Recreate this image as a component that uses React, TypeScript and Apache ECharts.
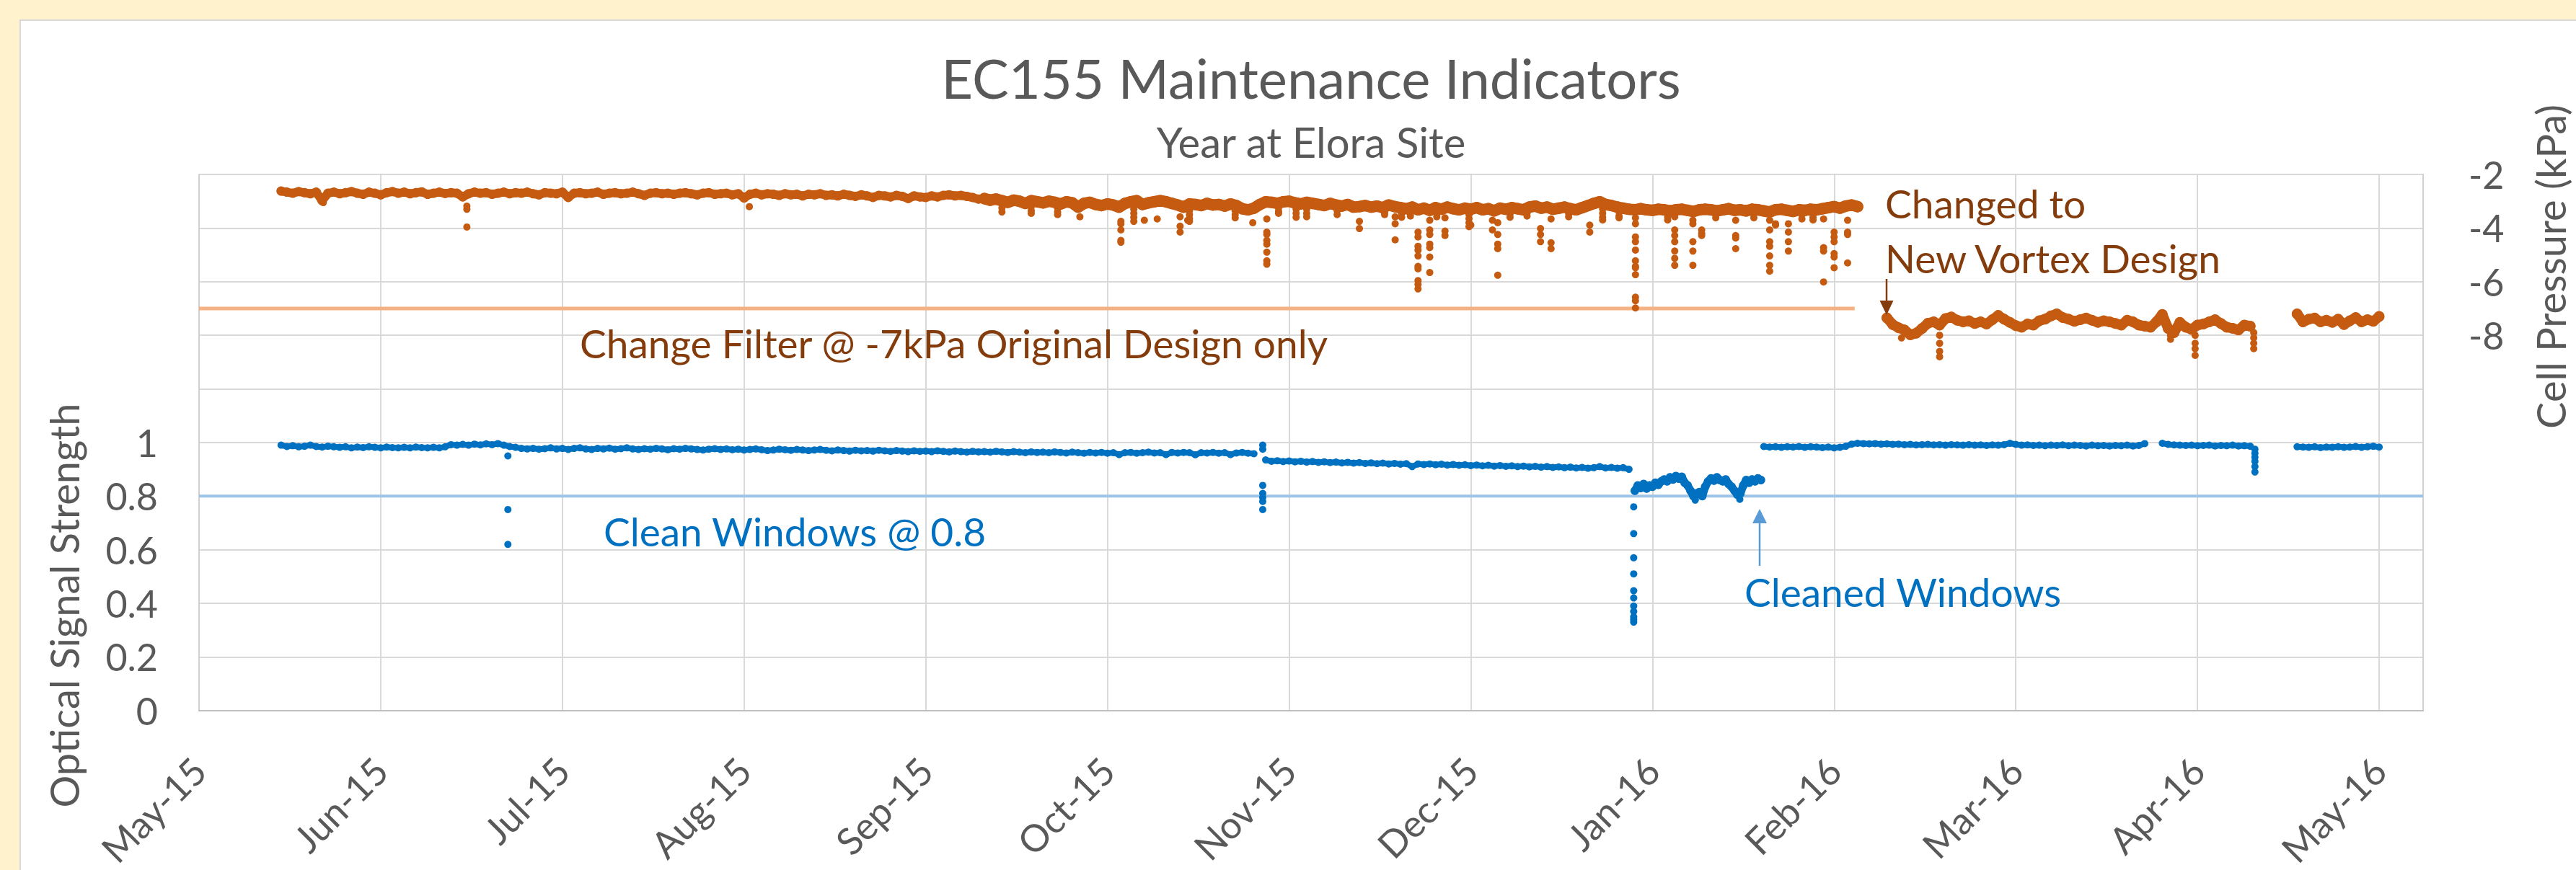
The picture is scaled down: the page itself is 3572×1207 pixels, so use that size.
import React, { useEffect, useRef } from "react";
import * as echarts from "echarts";

const FONT = "Lato, 'Noto Sans', sans-serif";

// x values are days counted from 1 May 2015; ticks every 31 days
const xTickLabels = ["May-15", "Jun-15", "Jul-15", "Aug-15", "Sep-15", "Oct-15", "Nov-15", "Dec-15", "Jan-16", "Feb-16", "Mar-16", "Apr-16", "May-16"];
const xTickStepDays = 31;
const xAxisMaxDays = 379.5;

// Left axis (Optical Signal Strength): gridlines to 2, labels only up to 1
const signalAxisMin = 0;
const signalAxisMax = 2;
const signalAxisStep = 0.2;
const signalLabelMax = 1;

// Right axis (Cell Pressure kPa): gridlines down to -22, labels only down to -8
const pressureAxisMin = -22;
const pressureAxisMax = -2;
const pressureAxisStep = 2;
const pressureLabelMin = -8;

// Thresholds
const filterThreshold = -7;
const filterLineDays = [0, 282.5];
const cleanThreshold = 0.8;
const cleanLineDays = [0, 379.5];

// Cell pressure, original design, one value per day from day 14
const pressureOldStartDay = 14;
const pressureOldQuietDays = 120; // first 120 days: narrower, calmer band
const pressureOld = [
  -2.62, -2.66, -2.7, -2.64, -2.68, -2.72, -2.66, -2.98, -2.7, -2.66,
  -2.72, -2.68, -2.64, -2.7, -2.74, -2.66, -2.7, -2.76, -2.68, -2.64,
  -2.7, -2.66, -2.72, -2.68, -2.65, -2.74, -2.7, -2.66, -2.71, -2.68,
  -2.7, -2.84, -2.72, -2.66, -2.7, -2.68, -2.74, -2.7, -2.66, -2.72,
  -2.68, -2.7, -2.66, -2.72, -2.76, -2.68, -2.7, -2.72, -2.66, -2.86,
  -2.7, -2.68, -2.72, -2.7, -2.66, -2.74, -2.7, -2.68, -2.72, -2.7,
  -2.66, -2.72, -2.78, -2.7, -2.68, -2.72, -2.7, -2.74, -2.7, -2.68,
  -2.72, -2.76, -2.7, -2.68, -2.74, -2.72, -2.7, -2.76, -2.72, -2.88,
  -2.74, -2.7, -2.76, -2.72, -2.74, -2.78, -2.72, -2.76, -2.74, -2.8,
  -2.74, -2.76, -2.72, -2.78, -2.76, -2.8, -2.74, -2.78, -2.82, -2.76,
  -2.8, -2.86, -2.78, -2.8, -2.84, -2.78, -2.82, -2.9, -2.8, -2.84,
  -2.86, -2.8, -2.84, -2.78, -2.76, -2.8, -2.78, -2.82, -2.86, -2.92,
  -2.9, -2.96, -2.92, -2.98, -3.04, -2.96, -3.0, -3.08, -2.98, -3.02,
  -3.06, -3.0, -3.04, -3.1, -3.02, -3.06, -3.22, -3.08, -3.04, -3.12,
  -3.16, -3.1, -3.14, -3.22, -3.08, -3.02, -2.98, -3.12, -3.06, -3.02,
  -2.98, -3.02, -3.08, -3.14, -3.22, -3.1, -3.12, -3.16, -3.08, -3.14,
  -3.12, -3.18, -3.1, -3.16, -3.28, -3.32, -3.26, -3.12, -3.02, -3.04,
  -3.08, -3.02, -3.0, -3.06, -3.1, -3.04, -3.08, -3.12, -3.16, -3.08,
  -3.14, -3.18, -3.12, -3.22, -3.2, -3.16, -3.22, -3.18, -3.24, -3.14,
  -3.2, -3.24, -3.28, -3.22, -3.32, -3.26, -3.34, -3.24, -3.3, -3.22,
  -3.28, -3.32, -3.26, -3.3, -3.24, -3.32, -3.28, -3.36, -3.26, -3.3,
  -3.24, -3.28, -3.32, -3.22, -3.18, -3.26, -3.22, -3.3, -3.26, -3.22,
  -3.28, -3.32, -3.24, -3.16, -3.08, -3.02, -3.12, -3.16, -3.22, -3.26,
  -3.3, -3.32, -3.28, -3.32, -3.34, -3.3, -3.32, -3.36, -3.32, -3.3,
  -3.34, -3.38, -3.32, -3.3, -3.32, -3.36, -3.32, -3.28, -3.34, -3.32,
  -3.36, -3.3, -3.32, -3.36, -3.4, -3.32, -3.3, -3.34, -3.38, -3.32,
  -3.34, -3.3, -3.32, -3.28, -3.24, -3.2, -3.26, -3.18, -3.14, -3.2,
];

// Cell pressure, new vortex design, one value per day
const pressureNewAStartDay = 288;
const pressureNewA = [
  -7.35, -7.6, -7.72, -7.8, -7.98, -7.92, -7.75, -7.55, -7.5, -7.62, -7.38, -7.32,
  -7.44, -7.5, -7.46, -7.56, -7.5, -7.58, -7.42, -7.26, -7.4, -7.52,
  -7.64, -7.7, -7.58, -7.62, -7.46, -7.4, -7.28, -7.2, -7.34, -7.4,
  -7.48, -7.42, -7.36, -7.44, -7.52, -7.46, -7.5, -7.56, -7.62, -7.44,
  -7.5, -7.62, -7.66, -7.7, -7.5, -7.22, -7.75, -7.9, -7.52, -7.7,
  -7.78, -7.62, -7.58, -7.5, -7.42, -7.56, -7.7, -7.74, -7.8, -7.62, -7.66,
];
const pressureNewBStartDay = 358;
const pressureNewB = [-7.2, -7.5, -7.4, -7.36, -7.5, -7.44, -7.52, -7.4, -7.6, -7.46, -7.34, -7.5, -7.42, -7.48, -7.3];

// Pressure excursions (isolated readings) by day
const pressureSpikeDays = [
  21.2, 45.7, 93.9, 150.3, 157.3, 161.3, 163.5, 167.4, 168.7, 179.8, 182.2, 198, 204.1, 208, 210, 212.6, 217,
  220.7, 221.6, 228.9, 230.7, 237.3, 245.1, 251.8, 254.9, 256.4, 262.2, 268, 269, 271.2, 277.2, 279, 281.3,
  290.5, 297, 336.4, 340.6, 350.6,
];
const pressureSpikeValues = [
  [-3.05], [-3.18, -3.3, -3.96], [-3.2], [-3.58], [-3.75, -3.84, -4.07, -4.46, -4.53], [-3.71], [-3.66],
  [-3.58, -3.93, -4.15], [-3.71], [-3.8], [-3.66, -4.15, -4.24, -4.46, -4.6, -4.9, -5.22, -5.35], [-3.75, -4.02],
  [-3.58, -3.84, -4.44], [-4.15, -4.33, -4.68, -4.82, -5.04, -5.43, -5.52, -5.96, -6.1, -6.27],
  [-3.71, -4.07, -4.24, -4.6, -4.73, -5.08, -5.66], [-3.62, -4.11, -4.28], [-3.89],
  [-3.71, -4.07], [-3.8, -4.24, -4.6, -4.77, -5.76], [-4.02, -4.24, -4.51], [-3.66, -4.55, -4.77], [-3.89, -4.15],
  [-3.62, -3.84, -4.33, -4.51, -4.82, -5.22, -5.43, -5.48, -5.74, -6.58, -6.71, -6.98],
  [-3.58, -4.07, -4.28, -4.51, -4.86, -5.13, -5.39], [-3.71, -3.84, -4.51, -4.86, -5.39], [-4.07, -4.2, -4.28],
  [-3.71, -4.28, -4.37, -4.77], [-3.71, -4.07, -4.51, -4.68, -5.04, -5.39, -5.61], [-3.84, -3.89],
  [-3.84, -4.15, -4.51, -4.86], [-3.66, -4.73, -4.86, -6.01], [-4.15, -4.33, -4.51, -4.95, -5.08, -5.48],
  [-3.71, -4.15, -4.24, -5.3],
  [-8.1], [-8.0, -8.3, -8.6, -8.8], [-8.0, -8.15], [-8.0, -8.3, -8.5, -8.75], [-7.9, -8.1, -8.3, -8.5],
];

// Short pressure dips just below the band (runs of consecutive readings)
const pressureDipDays = [
  137, 142, 146.5, 159.5, 169, 176.8, 184.2, 187.2, 189, 194.2, 202.3, 205.2, 206.7, 211.2, 216.7, 223.7,
  226.6, 233.7, 239.5, 242.3, 250.6, 258.8, 265.3, 273.5, 275.4,
];
const pressureDipValues = [
  [-3.1, -3.25, -3.4], [-3.2, -3.35, -3.45], [-3.25, -3.4, -3.5], [-3.3, -3.45, -3.6, -3.75],
  [-3.35, -3.5, -3.65, -3.75], [-3.35, -3.5, -3.62], [-3.25, -3.38, -3.45], [-3.3, -3.45, -3.6],
  [-3.3, -3.45, -3.58], [-3.35, -3.5], [-3.4, -3.5], [-3.45, -3.6], [-3.45, -3.55], [-3.45, -3.58],
  [-3.5, -3.65, -3.8, -3.95], [-3.48, -3.6], [-3.45, -3.55], [-3.45, -3.58], [-3.3, -3.45, -3.6, -3.7],
  [-3.4, -3.55, -3.62], [-3.5, -3.6, -3.7], [-3.5, -3.62], [-3.5, -3.62], [-3.5, -3.66], [-3.5, -3.6, -3.7],
];

// Optical signal strength, one value per day, in segments
const signalAStartDay = 14;
const signalA = [
  0.99, 0.985, 0.988, 0.984, 0.986, 0.99, 0.985, 0.983, 0.986, 0.984,
  0.982, 0.984, 0.98, 0.983, 0.981, 0.984, 0.982, 0.98, 0.983, 0.981,
  0.98, 0.982, 0.98, 0.983, 0.981, 0.98, 0.982, 0.98, 0.984, 0.992,
  0.99, 0.993, 0.99, 0.994, 0.991, 0.995, 0.992, 0.996, 0.99, 0.985,
  0.982, 0.978, 0.976, 0.978, 0.975, 0.977, 0.98, 0.976, 0.978, 0.974,
  0.978, 0.98, 0.976, 0.974, 0.978, 0.976, 0.979, 0.975, 0.977, 0.98,
  0.976, 0.974, 0.977, 0.975, 0.978, 0.976, 0.973, 0.977, 0.975, 0.978,
  0.976, 0.974, 0.972, 0.975, 0.977, 0.974, 0.976, 0.973, 0.975, 0.972,
  0.974, 0.976, 0.973, 0.97, 0.972, 0.975, 0.973, 0.971, 0.974, 0.972,
  0.97, 0.972, 0.974, 0.971, 0.969, 0.972, 0.97, 0.968, 0.971, 0.969,
  0.97, 0.968, 0.971, 0.969, 0.967, 0.97, 0.968, 0.966, 0.969, 0.967,
  0.968, 0.966, 0.969, 0.967, 0.965, 0.968, 0.966, 0.964, 0.967, 0.965,
  0.966, 0.964, 0.967, 0.965, 0.963, 0.966, 0.964, 0.962, 0.965, 0.963,
  0.964, 0.962, 0.965, 0.963, 0.961, 0.964, 0.962, 0.96, 0.963, 0.961,
  0.963, 0.96, 0.962, 0.955, 0.962, 0.963, 0.96, 0.962, 0.964, 0.961,
  0.962, 0.955, 0.963, 0.961, 0.963, 0.962, 0.954, 0.962, 0.961, 0.963,
  0.96, 0.962, 0.955, 0.961, 0.963, 0.96, 0.958,
];
const signalBStartDay = 182;
const signalB = [
  0.935, 0.93, 0.932, 0.929, 0.931, 0.928, 0.93, 0.927, 0.929, 0.926,
  0.928, 0.925, 0.927, 0.924, 0.926, 0.923, 0.925, 0.922, 0.924, 0.921,
  0.923, 0.92, 0.922, 0.919, 0.921, 0.91, 0.92, 0.918, 0.92, 0.917,
  0.919, 0.916, 0.918, 0.915, 0.917, 0.914, 0.916, 0.913, 0.915, 0.912,
  0.914, 0.911, 0.913, 0.91, 0.912, 0.909, 0.911, 0.908, 0.91, 0.907,
  0.909, 0.906, 0.908, 0.905, 0.907, 0.904, 0.906, 0.91, 0.905, 0.907,
  0.904, 0.906, 0.9,
];
// noisy period before the windows were cleaned: two readings per day
const signalCStartDay = 245;
const signalCStepDays = 0.5;
const signalC = [
  0.82, 0.84, 0.83, 0.845, 0.828, 0.84, 0.835, 0.85, 0.842, 0.855,
  0.862, 0.855, 0.87, 0.862, 0.875, 0.865, 0.872, 0.85, 0.84, 0.82,
  0.8, 0.81, 0.815, 0.8, 0.835, 0.855, 0.866, 0.858, 0.87, 0.86,
  0.855, 0.862, 0.845, 0.835, 0.82, 0.805, 0.81, 0.84, 0.86, 0.85,
  0.862, 0.855, 0.866, 0.86,
];
const signalDStartDay = 267;
const signalD = [
  0.985, 0.983, 0.984, 0.982, 0.984, 0.983, 0.985, 0.982, 0.984, 0.983,
  0.981, 0.983, 0.98, 0.982, 0.986, 0.994, 0.997, 0.996, 0.995, 0.996,
  0.994, 0.995, 0.993, 0.994, 0.992, 0.993, 0.991, 0.992, 0.993, 0.991,
  0.992, 0.99, 0.992, 0.991, 0.99, 0.992, 0.99, 0.991, 0.989, 0.991,
  0.99, 0.992, 0.997, 0.993, 0.99, 0.991, 0.989, 0.99, 0.988, 0.99,
  0.989, 0.991, 0.988, 0.99, 0.989, 0.987, 0.99, 0.988, 0.989, 0.987,
  0.989, 0.988, 0.99, 0.987, 0.989, 0.996,
];
const signalEStartDay = 335;
const signalE = [0.997, 0.993, 0.991, 0.99, 0.989, 0.99, 0.988, 0.989, 0.99, 0.987, 0.989, 0.988, 0.99, 0.987, 0.988, 0.986];
const signalFStartDay = 358;
const signalF = [0.984, 0.983, 0.982, 0.984, 0.981, 0.983, 0.982, 0.984, 0.982, 0.983, 0.985, 0.982, 0.984, 0.986, 0.983];

// Signal excursions (isolated readings) by day
const signalSpikeDays = [52.7, 181.5, 244.8, 255.3, 262.9, 350.8];
const signalSpikeValues = [
  [0.95, 0.75, 0.62],
  [0.99, 0.975, 0.84, 0.81, 0.795, 0.78, 0.75],
  [0.76, 0.66, 0.57, 0.51, 0.447, 0.42, 0.39, 0.37, 0.35, 0.34, 0.33],
  [0.79, 0.785],
  [0.788],
  [0.975, 0.96, 0.945, 0.93, 0.91, 0.89],
];

const ORANGE = "#C55A11";
const BLUE = "#0070C0";
const BROWN = "#843C0C";
const GREY_TEXT = "#595959";

const daily = (start: number, vals: number[], step = 1) => vals.map((v, i) => [start + i * step, v]);
const clusters = (days: number[], vals: number[][]) => {
  const out: number[][] = [];
  days.forEach((d, i) => vals[i].forEach((v) => out.push([d, v])));
  return out;
};

function bandSeries(data: number[][], color: string, yAxisIndex: number, width: number, size: number) {
  return {
    type: "line",
    yAxisIndex,
    data,
    silent: true,
    symbol: "circle",
    symbolSize: size,
    showSymbol: true,
    showAllSymbol: true,
    itemStyle: { color },
    lineStyle: { color, width, cap: "round", join: "round" },
    emphasis: { disabled: true },
    z: 3,
  };
}

function spikeSeries(data: number[][], color: string, yAxisIndex: number) {
  return {
    type: "scatter",
    yAxisIndex,
    data,
    silent: true,
    symbol: "circle",
    symbolSize: 10,
    itemStyle: { color, opacity: 1 },
    emphasis: { disabled: true },
    z: 3,
  };
}

function thresholdSeries(days: number[], value: number, color: string, yAxisIndex: number, width: number) {
  return {
    type: "line",
    yAxisIndex,
    data: days.map((d) => [d, value]),
    silent: true,
    showSymbol: false,
    symbol: "none",
    lineStyle: { color, width },
    emphasis: { disabled: true },
    z: 2,
  };
}

function txt(text: string, x: number, y: number, size: number, color: string, align = "left", rotation = 0) {
  return {
    type: "text",
    x,
    y,
    rotation,
    z: 100,
    silent: true,
    style: {
      text,
      fill: color,
      fontSize: size,
      fontFamily: FONT,
      align,
      textAlign: align,
      verticalAlign: "middle",
      textVerticalAlign: "middle",
    },
  };
}

export default function App() {
  const ref = useRef<HTMLDivElement>(null);

  useEffect(() => {
    if (!ref.current) return;
    const chart = echarts.init(ref.current, undefined, { renderer: "svg" });

    const pressureOldPoints = daily(pressureOldStartDay, pressureOld);

    const option: any = {
      animation: false,
      backgroundColor: "transparent",
      grid: { left: 276, right: 212, top: 242, bottom: 210, containLabel: false },
      xAxis: {
        type: "value",
        min: 0,
        max: xAxisMaxDays,
        interval: xTickStepDays,
        axisLine: { show: true, lineStyle: { color: "#BFBFBF", width: 2 } },
        axisTick: { show: false },
        splitLine: { show: true, lineStyle: { color: "#D9D9D9", width: 2 } },
        axisLabel: {
          rotate: 45,
          margin: 74,
          fontSize: 52,
          fontFamily: FONT,
          color: GREY_TEXT,
          showMaxLabel: false,
          formatter: (v: number) => {
            const idx = Math.round(v / xTickStepDays);
            return Math.abs(v - idx * xTickStepDays) < 0.01 ? xTickLabels[idx] || "" : "";
          },
        },
      },
      yAxis: [
        {
          type: "value",
          min: signalAxisMin,
          max: signalAxisMax,
          interval: signalAxisStep,
          axisLine: { show: true, lineStyle: { color: "#D0D0D0", width: 2 } },
          axisTick: { show: false },
          splitLine: { show: true, lineStyle: { color: "#D9D9D9", width: 2 } },
          axisLabel: {
            margin: 57,
            fontSize: 52,
            fontFamily: FONT,
            color: GREY_TEXT,
            formatter: (v: number) => (v <= signalLabelMax + 1e-9 ? String(Math.round(v * 10) / 10) : ""),
          },
        },
        {
          type: "value",
          position: "right",
          min: pressureAxisMin,
          max: pressureAxisMax,
          interval: pressureAxisStep,
          axisLine: { show: true, lineStyle: { color: "#D0D0D0", width: 2 } },
          axisTick: { show: false },
          splitLine: { show: false },
          axisLabel: {
            margin: 63,
            fontSize: 52,
            fontFamily: FONT,
            color: GREY_TEXT,
            formatter: (v: number) => (v >= pressureLabelMin - 1e-9 ? String(v) : ""),
          },
        },
      ],
      series: [
        thresholdSeries(filterLineDays, filterThreshold, "#F4B183", 1, 5),
        thresholdSeries(cleanLineDays, cleanThreshold, "#9DC3E6", 0, 4),
        bandSeries(pressureOldPoints.slice(0, pressureOldQuietDays + 1), ORANGE, 1, 12, 13),
        bandSeries(pressureOldPoints.slice(pressureOldQuietDays), ORANGE, 1, 16, 16),
        bandSeries(daily(pressureNewAStartDay, pressureNewA), ORANGE, 1, 14, 15),
        bandSeries(daily(pressureNewBStartDay, pressureNewB), ORANGE, 1, 14, 15),
        spikeSeries(clusters(pressureSpikeDays, pressureSpikeValues), ORANGE, 1),
        spikeSeries(clusters(pressureDipDays, pressureDipValues), ORANGE, 1),
        bandSeries(daily(signalAStartDay, signalA), BLUE, 0, 8, 10),
        bandSeries(daily(signalBStartDay, signalB), BLUE, 0, 8, 10),
        bandSeries(daily(signalCStartDay, signalC, signalCStepDays), BLUE, 0, 11, 12),
        bandSeries(daily(signalDStartDay, signalD), BLUE, 0, 8, 10),
        bandSeries(daily(signalEStartDay, signalE), BLUE, 0, 8, 10),
        bandSeries(daily(signalFStartDay, signalF), BLUE, 0, 8, 10),
        spikeSeries(clusters(signalSpikeDays, signalSpikeValues), BLUE, 0),
      ],
      graphic: [
        txt("EC155 Maintenance Indicators", 1818, 107, 76, GREY_TEXT, "center"),
        txt("Year at Elora Site", 1818, 196, 58, GREY_TEXT, "center"),
        txt("Optical Signal Strength", 88, 840, 56, GREY_TEXT, "center", Math.PI / 2),
        txt("Cell Pressure (kPa)", 3536, 370, 56, GREY_TEXT, "center", Math.PI / 2),
        txt("Change Filter @ -7kPa Original Design only", 804, 476, 55, BROWN),
        txt("Clean Windows @ 0.8", 837, 737, 55, BLUE),
        txt("Changed to", 2614, 282, 55, BROWN),
        txt("New Vortex Design", 2614, 358, 55, BROWN),
        txt("Cleaned Windows", 2419, 821, 55, BLUE),
        { type: "line", z: 100, silent: true, shape: { x1: 2616, y1: 387, x2: 2616, y2: 420 }, style: { stroke: BROWN, lineWidth: 2.5 } },
        { type: "polygon", z: 100, silent: true, shape: { points: [[2606.5, 417], [2625.5, 417], [2616, 437]] }, style: { fill: BROWN } },
        { type: "line", z: 100, silent: true, shape: { x1: 2440, y1: 785, x2: 2440, y2: 723 }, style: { stroke: "#5B9BD5", lineWidth: 2.5 } },
        { type: "polygon", z: 100, silent: true, shape: { points: [[2430, 726], [2450, 726], [2440, 706]] }, style: { fill: "#5B9BD5" } },
      ],
    };

    chart.setOption(option);
    return () => chart.dispose();
  }, []);

  return (
    <div style={{ position: "fixed", left: 0, top: 0, width: 3572, height: 1207, background: "#FFF2CC", overflow: "hidden" }}>
      <div
        style={{
          position: "absolute",
          left: 27,
          top: 27,
          width: 3700,
          height: 1400,
          background: "#FFFFFF",
          border: "2px solid #D9D9D9",
          boxSizing: "border-box",
        }}
      />
      <div ref={ref} style={{ position: "absolute", left: 0, top: 0, width: 3572, height: 1207 }} />
    </div>
  );
}
